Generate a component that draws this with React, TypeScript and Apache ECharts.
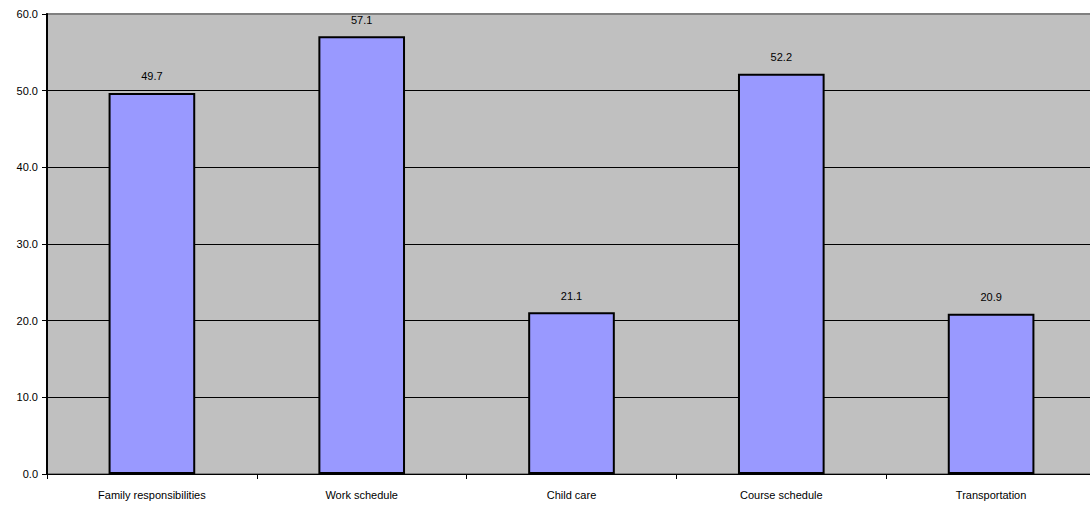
import React, { useEffect, useRef } from "react";
import * as echarts from "echarts";

const categories = ["Family responsibilities", "Work schedule", "Child care", "Course schedule", "Transportation"];
const values = [49.7, 57.1, 21.1, 52.2, 20.9];
const yTicks = { min: 0, max: 60, interval: 10 };

export default function App() {
  const ref = useRef<HTMLDivElement>(null);
  useEffect(() => {
    const chart = echarts.init(ref.current!, null, { renderer: "svg" });
    chart.setOption({
      animation: false,
      textStyle: { fontFamily: "Liberation Sans, Arial, sans-serif" },
      grid: {
        left: 47,
        top: 14,
        width: 1049,
        height: 460,
        show: true,
        backgroundColor: "#C0C0C0",
        borderColor: "#808080",
        borderWidth: 2,
      },
      xAxis: {
        type: "category",
        data: categories,
        axisLine: { lineStyle: { color: "#000", width: 1 } },
        axisTick: { show: true, alignWithLabel: false, length: 5, lineStyle: { color: "#000" } },
        axisLabel: { color: "#000", fontSize: 11, margin: 15 },
      },
      yAxis: {
        type: "value",
        min: yTicks.min,
        max: yTicks.max,
        interval: yTicks.interval,
        axisLine: { show: true, lineStyle: { color: "#000", width: 2 } },
        axisTick: { show: true, length: 5, lineStyle: { color: "#000" } },
        axisLabel: { color: "#000", fontSize: 11, margin: 9, formatter: (v: number) => v.toFixed(1) },
        splitLine: {
          show: true,
          lineStyle: { color: ["#000", "#000", "#000", "#000", "#000", "#000", "#808080"], width: 1 },
        },
      },
      series: [
        {
          type: "bar",
          data: values,
          barWidth: "41.3%",
          itemStyle: { color: "#9999FF", borderColor: "#000", borderWidth: 2 },
          label: {
            show: true,
            position: "top",
            distance: 11,
            color: "#000",
            fontSize: 11,
            formatter: (p: any) => Number(p.value).toFixed(1),
          },
        },
      ],
    });
    return () => chart.dispose();
  }, []);
  return (
    <div style={{ position: "absolute", left: 0, top: 0, width: 1090, height: 508, overflow: "hidden" }}>
      <div ref={ref} style={{ width: 1100, height: 508 }} />
    </div>
  );
}
